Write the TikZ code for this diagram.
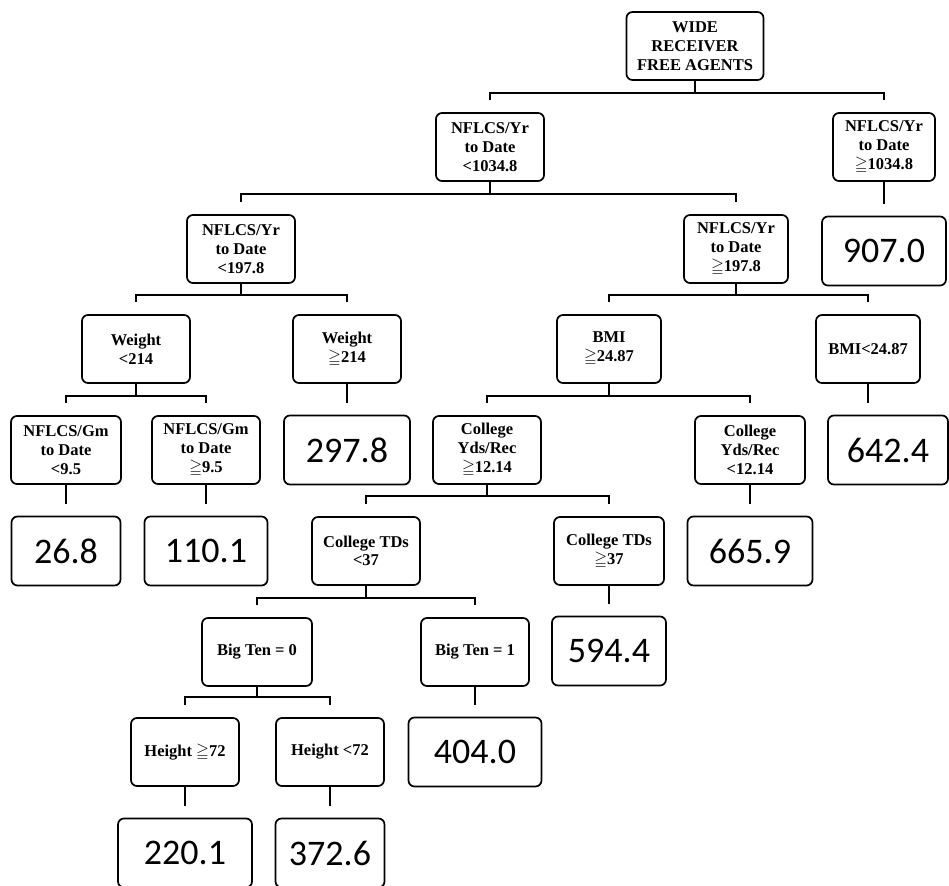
\documentclass[tikz,border=0pt]{standalone}
\usepackage{amssymb}
\usepackage{fontspec}
\setmainfont{Liberation Serif}
\newfontfamily\numfont{Carlito}

\begin{document}
\begin{tikzpicture}[x=1pt, y=-1pt,
		box/.style={draw, line width=1.7pt, rounded corners=6pt, align=center, inner sep=1pt,
			font=\fontsize{16.5}{19}\selectfont\bfseries, minimum width=108pt, minimum height=68pt},
		val/.style={box, font=\fontsize{36}{40}\selectfont\numfont, minimum height=69pt},
		link/.style={line width=1.7pt}]
		\clip (0,0) rectangle (949,885);
		% splits
		\node[box, minimum width=137pt] (root) at (695,46) {WIDE\\RECEIVER\\FREE AGENTS};
		\node[box] (yrLo) at (490,147) {NFLCS/Yr\\to Date\\<1034.8};
		\node[box, minimum width=102pt] (yrHi) at (884,147) {NFLCS/Yr\\to Date\\$\geqq$1034.8};
		\node[box] (yrLoLo) at (241,249) {NFLCS/Yr\\to Date\\<197.8};
		\node[box, minimum width=104pt] (yrLoHi) at (736,249) {NFLCS/Yr\\to Date\\$\geqq$197.8};
		\node[box] (wtLo) at (136,349) {Weight\\<214};
		\node[box] (wtHi) at (347,349) {Weight\\$\geqq$214};
		\node[box, minimum width=104pt] (bmiHi) at (609,349) {BMI\\$\geqq$24.87};
		\node[box, minimum width=104pt] (bmiLo) at (868,349) {BMI<24.87};
		\node[box, minimum width=110pt] (gmLo) at (66,450) {NFLCS/Gm\\to Date\\<9.5};
		\node[box] (gmHi) at (206,450) {NFLCS/Gm\\to Date\\$\geqq$9.5};
		\node[box] (ydsHi) at (487,450) {College\\Yds/Rec\\$\geqq$12.14};
		\node[box, minimum width=110pt] (ydsLo) at (750,450) {College\\Yds/Rec\\<12.14};
		\node[box, font=\fontsize{16.5}{18.5}\selectfont\bfseries] (tdLo) at (366,551) {College TDs\\<37};
		\node[box, minimum width=110pt, font=\fontsize{16.5}{19}\selectfont\bfseries] (tdHi) at (609,551) {College TDs\\$\geqq$37};
		\node[box, minimum width=110pt] (bigNo) at (257,652) {Big Ten = 0};
		\node[box] (bigYes) at (475,652) {Big Ten = 1};
		\node[box] (htHi) at (185,752) {Height $\geqq$72};
		\node[box] (htLo) at (330,752) {Height <72};
		% leaves
		\node[val, minimum width=124pt] (v907) at (884,251) {907.0};
		\node[val, minimum width=126pt] (v2978) at (347,450) {297.8};
		\node[val, minimum width=120pt] (v6424) at (888,450) {642.4};
		\node[val, minimum width=109pt] (v268) at (66,551) {26.8};
		\node[val, minimum width=123pt] (v1101) at (206,551) {110.1};
		\node[val, minimum width=125pt] (v6659) at (750,551) {665.9};
		\node[val, minimum width=114pt] (v5944) at (609,651) {594.4};
		\node[val, minimum width=133pt] (v4040) at (475,752) {404.0};
		\node[val, minimum width=134pt] (v2201) at (185,853) {220.1};
		\node[val, minimum width=109pt] (v3726) at (330,853) {372.6};
		% forks
		\draw[link] (root.south) -- ++(0,12) coordinate (f0);
		\draw[link] ([yshift=12pt]yrLo.north) |- (f0) -| ([yshift=12pt]yrHi.north);
		\draw[link] (yrLo.south) -- ++(0,12) coordinate (f1);
		\draw[link] ([yshift=12pt]yrLoLo.north) |- (f1) -| ([yshift=12pt]yrLoHi.north);
		\draw[link] (yrLoLo.south) -- ++(0,11) coordinate (f2);
		\draw[link] ([yshift=12pt]wtLo.north) |- (f2) -| ([yshift=12pt]wtHi.north);
		\draw[link] (yrLoHi.south) -- ++(0,11) coordinate (f3);
		\draw[link] ([yshift=12pt]bmiHi.north) |- (f3) -| ([yshift=12pt]bmiLo.north);
		\draw[link] (wtLo.south) -- ++(0,12) coordinate (f4);
		\draw[link] ([yshift=12pt]gmLo.north) |- (f4) -| ([yshift=12pt]gmHi.north);
		\draw[link] (bmiHi.south) -- ++(0,12) coordinate (f5);
		\draw[link] ([yshift=12pt]ydsHi.north) |- (f5) -| ([yshift=12pt]ydsLo.north);
		\draw[link] (ydsHi.south) -- ++(0,11) coordinate (f6);
		\draw[link] ([yshift=12pt]tdLo.north) |- (f6) -| ([yshift=12pt]tdHi.north);
		\draw[link] (tdLo.south) -- ++(0,12) coordinate (f7);
		\draw[link] ([yshift=12pt]bigNo.north) |- (f7) -| ([yshift=12pt]bigYes.north);
		\draw[link] (bigNo.south) -- ++(0,10) coordinate (f8);
		\draw[link] ([yshift=12pt]htHi.north) |- (f8) -| ([yshift=12pt]htLo.north);
		% stems to leaves
		\draw[link] (yrHi.south) -- ([yshift=12pt]v907.north);
		\draw[link] (wtHi.south) -- ([yshift=12pt]v2978.north);
		\draw[link] (bmiLo.south) -- ([yshift=12pt]bmiLo.south |- v6424.north);
		\draw[link] (gmLo.south) -- ([yshift=12pt]v268.north);
		\draw[link] (gmHi.south) -- ([yshift=12pt]v1101.north);
		\draw[link] (ydsLo.south) -- ([yshift=12pt]v6659.north);
		\draw[link] (tdHi.south) -- ([yshift=12pt]v5944.north);
		\draw[link] (bigYes.south) -- ([yshift=12pt]v4040.north);
		\draw[link] (htHi.south) -- ([yshift=12pt]v2201.north);
		\draw[link] (htLo.south) -- ([yshift=12pt]v3726.north);
\end{tikzpicture}
\end{document}
